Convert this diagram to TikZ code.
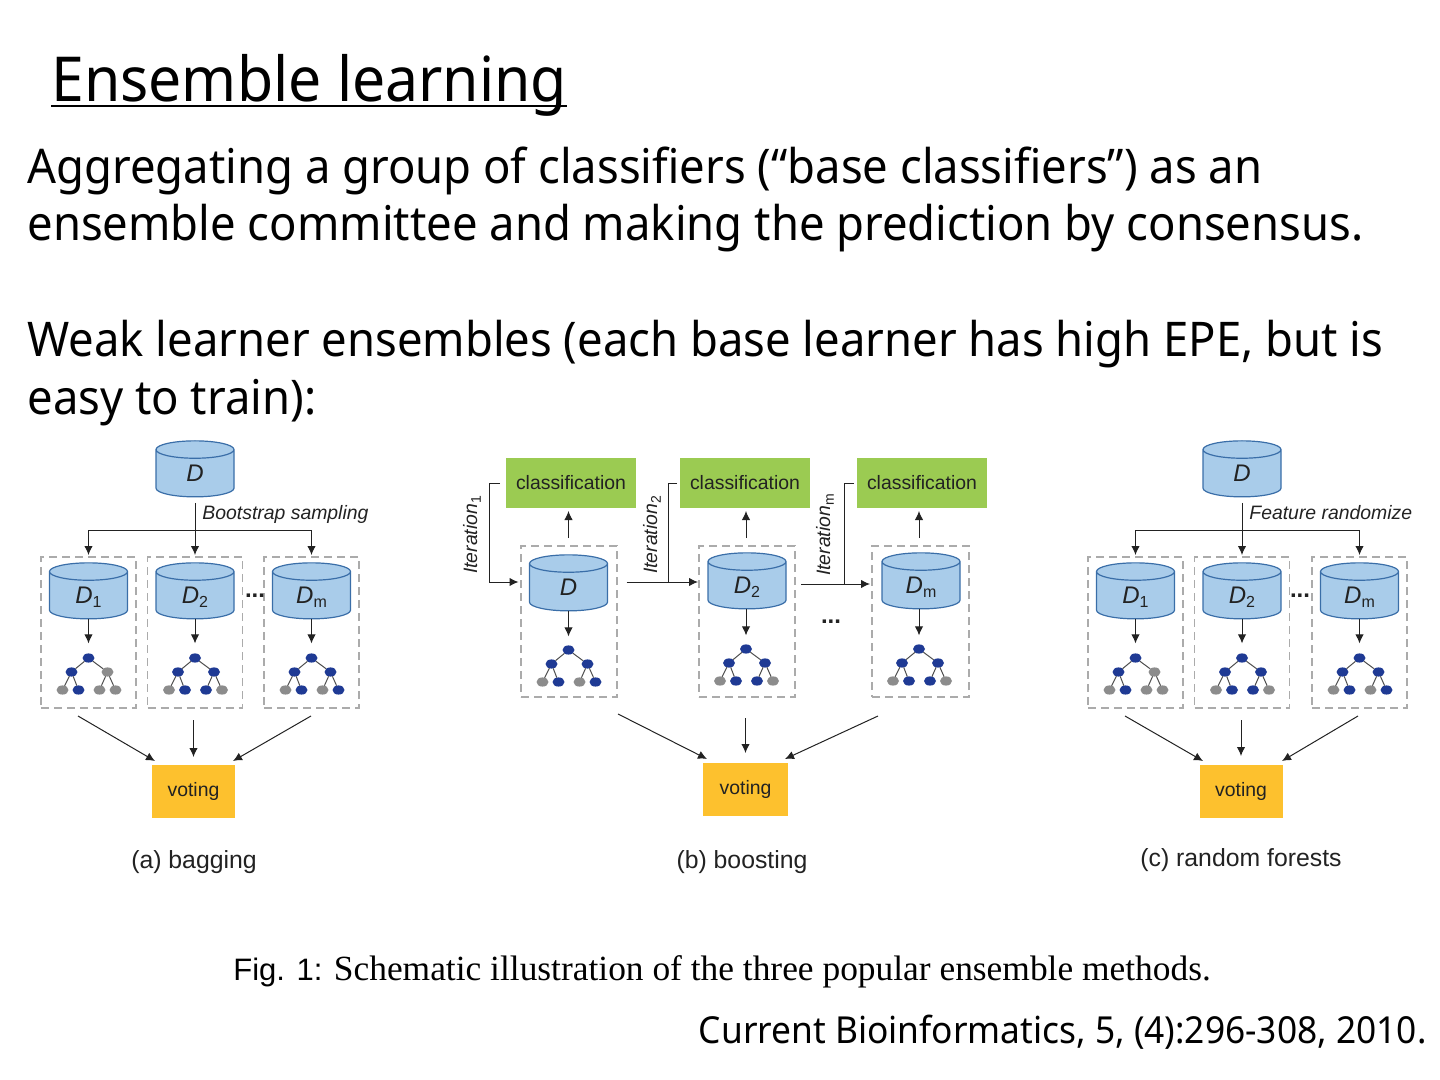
\documentclass[tikz,border=0pt]{standalone}
\usepackage{fontspec}
\setmainfont{Liberation Sans}
\newfontfamily\slidefont[FakeStretch=0.95]{Noto Sans}
\newfontfamily\capfont{Liberation Serif}
\usetikzlibrary{arrows.meta}
\usetikzlibrary{shapes.geometric}

\definecolor{dbfill}{HTML}{A9CCEA}
\definecolor{dbline}{HTML}{3A6EA8}
\definecolor{clsgreen}{HTML}{9BCB52}
\definecolor{votegold}{HTML}{FDC12E}
\definecolor{leafblue}{HTML}{1F3A94}
\definecolor{leafgray}{HTML}{8C8C8C}
\definecolor{boxgray}{HTML}{ABABAB}
\definecolor{inktext}{HTML}{222222}

\newcommand{\fs}[1]{\fontsize{#1}{#1}\selectfont}
\newcommand{\dsub}[1]{\makebox[8.7pt]{\textit{D}\raisebox{-0.35ex}{\fs{8}#1}}}

% root at (x,y), then styles of two children and four leaves
\newcommand{\dtree}[9]{%
    \node[tn,b] (#1r) at (#2,#3) {};
    \node[tn,#4] (#1a) at (#2-17,#3+14) {};
    \node[tn,#5] (#1b) at (#2+19,#3+14) {};
    \node[tn,#6] (#1c) at (#2-26,#3+32) {};
    \node[tn,#7] (#1d) at (#2-10,#3+32) {};
    \node[tn,#8] (#1e) at (#2+11,#3+32) {};
    \node[tn,#9] (#1f) at (#2+27,#3+32) {};
    \draw[treeline] (#1r) -- (#1a) (#1r) -- (#1b);
    \draw[treeline] (#1a) -- (#1c) (#1a) -- (#1d);
    \draw[treeline] (#1b) -- (#1e) (#1b) -- (#1f);
}

\tikzset{
    db/.style={cylinder, shape border rotate=90, aspect=1.0, draw=dbline, fill=dbfill, line width=0.6pt,
        minimum width=39pt, minimum height=28pt, inner sep=0pt, outer sep=0pt, text=inktext, font=\fs{12},
        text height=9pt, text depth=1pt},
    dbox/.style={draw=boxgray, dashed, dash pattern=on 4pt off 2.5pt, line width=0.8pt, minimum width=47.5pt, minimum height=75.5pt, inner sep=0pt, outer sep=0pt},
    cls/.style={fill=clsgreen, minimum width=65pt, minimum height=25pt, inner sep=0pt, outer sep=0pt, text=inktext, font=\fs{9.7}},
    vote/.style={fill=votegold, minimum width=41.5pt, minimum height=26.5pt, inner sep=0pt, outer sep=0pt, text=inktext, font=\fs{9.7}},
    tn/.style={ellipse, minimum width=6pt, minimum height=4.6pt, inner sep=0pt, outer sep=0pt},
    b/.style={fill=leafblue},
    g/.style={fill=leafgray},
    treeline/.style={draw=inktext!80, line width=0.5pt},
    arr/.style={-{Latex[length=4.5pt,width=4.2pt]}, line width=0.5pt, draw=inktext},
    plain/.style={line width=0.5pt, draw=inktext},
    note/.style={text=inktext, font=\fs{9.7}\itshape, inner sep=0pt},
    sub/.style={text=inktext, font=\fs{12.4}, inner sep=0pt},
    slide/.style={anchor=base west, inner sep=0pt, font=\slidefont\fs{23.9}, text=black},
    dotted3/.style={font=\fs{12}\bfseries, text=inktext, inner sep=0pt},
}

\begin{document}
\begin{tikzpicture}[x=0.5pt, y=-0.5pt]
    \useasboundingbox (0,0) rectangle (1440,1080);

    % slide text
    \node[slide, font=\slidefont\fs{31}] (title) at (51,102) {Ensemble learning};
    \draw[line width=1pt] ([yshift=-2pt]title.base west) -- ([yshift=-2pt]title.base east);
    \node[slide] (l1) at (27,184) {Aggregating a group of classifiers (“base classifiers”) as an};
    \node[slide] (l2) at (27,241) {ensemble committee and making the prediction by consensus.};
    \node[slide] (l3) at (27,357) {Weak learner ensembles (each base learner has high EPE, but is};
    \node[slide] (l4) at (27,415) {easy to train):};

    % (a) bagging
    \node[db] (dA) at (195,473.5) {\dsub{}};
    \coordinate (forkA) at (195,530);
    \node[dbox] (boxA1) at (88.5,632.5) {};
    \node[dbox] (boxA2) at (195,632.5) {};
    \node[dbox] (boxA3) at (311.5,632.5) {};
    \node[db] (dA1) at (88.5,595.5) {\dsub{1}};
    \node[db] (dA2) at (195,595.5) {\dsub{2}};
    \node[db] (dA3) at (311.5,595.5) {\dsub{m}};
    \dtree{tA1}{88.5}{658}{b}{g}{g}{b}{g}{g}
    \dtree{tA2}{195}{658}{b}{b}{g}{b}{b}{g}
    \dtree{tA3}{311.5}{658}{b}{b}{g}{b}{g}{b}
    \draw[arr, shorten <=3pt, shorten >=1pt] (dA.south) -- (boxA2.north);
    \draw[arr, shorten >=1pt] (forkA) -| (boxA1.north);
    \draw[arr, shorten >=1pt] (forkA) -| (boxA3.north);
    \foreach \i in {1,2,3}
        \draw[arr, shorten >=5pt] (dA\i.south) -- (tA\i r);
    \node[note, anchor=base west] (bsA) at (202,519) {Bootstrap sampling};
    \node[dotted3] (dotsA) at (255,596) {...};
    \node[vote] (voteA) at (193.5,791.5) {voting};
    \coordinate (fromA1) at (78,716);
    \coordinate (toA1) at (155,761);
    \coordinate (fromA2) at (193.5,720);
    \coordinate (toA2) at (193.5,757);
    \coordinate (fromA3) at (311,716);
    \coordinate (toA3) at (233,761);
    \foreach \i in {1,2,3}
        \draw[arr] (fromA\i) -- (toA\i);
    \node[sub] (capA) at (194,862) {(a) bagging};

    % (b) boosting
    \node[cls] (clsB1) at (571,483) {classification};
    \node[cls] (clsB2) at (745,483) {classification};
    \node[cls] (clsB3) at (922,483) {classification};
    \node[dbox, minimum width=48pt] (boxB1) at (569,621.5) {};
    \node[dbox, minimum width=48pt] (boxB2) at (747,621.5) {};
    \node[dbox, minimum width=48.5pt] (boxB3) at (920.5,621.5) {};
    \node[db] (dB1) at (568.5,587.5) {\dsub{}};
    \node[db] (dB2) at (747,585.5) {\dsub{2}};
    \node[db] (dB3) at (921,585.5) {\dsub{m}};
    \dtree{tB1}{568.5}{650}{b}{b}{g}{b}{g}{b}
    \dtree{tB2}{746}{649}{b}{b}{g}{b}{b}{g}
    \dtree{tB3}{919}{649}{b}{b}{g}{b}{b}{g}
    \foreach \i in {1,2,3} {
        \draw[arr, shorten <=4pt, shorten >=1.5pt] (tB\i r |- boxB\i.north) -- (tB\i r |- clsB\i.south);
        \draw[arr, shorten >=4.5pt] (tB\i r |- dB\i.south) -- (tB\i r);
    }
    \coordinate (itB1) at (489,582);
    \coordinate (itB2) at (668,582);
    \coordinate (itB3) at (844,584);
    \draw[arr, shorten <=3pt, shorten >=5.5pt] (clsB1.west) -| (itB1) -- (dB1.west |- itB1);
    \draw[arr, shorten <=9.5pt, shorten >=5pt] (dB1.east |- itB2) -- (dB2.west |- itB2);
    \draw[arr, shorten <=7.5pt, shorten >=6pt] (dB2.east |- itB3) -- (dB3.west |- itB3);
    \draw[plain, shorten <=1.5pt] (clsB2.west) -| (itB2);
    \draw[plain, shorten <=1.5pt] (clsB3.west) -| (itB3);
    \node[note, rotate=90] (iterB1) at (472,535) {Iteration\raisebox{-0.35ex}{\fs{7}\upshape 1}};
    \node[note, rotate=90] (iterB2) at (652,535) {Iteration\raisebox{-0.35ex}{\fs{7}\upshape 2}};
    \node[note, rotate=90] (iterB3) at (825,535) {Iteration\raisebox{-0.35ex}{\fs{7}\upshape m}};
    \node[dotted3] (dotsB) at (831,622) {...};
    \node[vote, minimum width=42.5pt] (voteB) at (745.5,789.5) {voting};
    \coordinate (fromB1) at (618,714);
    \coordinate (toB1) at (707,759);
    \coordinate (fromB2) at (745.5,718);
    \coordinate (toB2) at (745.5,753);
    \coordinate (fromB3) at (878,716);
    \coordinate (toB3) at (785,759);
    \foreach \i in {1,2,3}
        \draw[arr] (fromB\i) -- (toB\i);
    \node[sub] (capB) at (742,862) {(b) boosting};

    % (c) random forests
    \node[db] (dC) at (1242,473.5) {\dsub{}};
    \coordinate (forkC) at (1242,530);
    \node[dbox] (boxC1) at (1135.5,632.5) {};
    \node[dbox] (boxC2) at (1242,632.5) {};
    \node[dbox] (boxC3) at (1359.5,632.5) {};
    \node[db] (dC1) at (1135.5,595.5) {\dsub{1}};
    \node[db] (dC2) at (1242,595.5) {\dsub{2}};
    \node[db] (dC3) at (1359.5,595.5) {\dsub{m}};
    \dtree{tC1}{1135.5}{658}{b}{g}{g}{b}{g}{g}
    \dtree{tC2}{1242}{658}{b}{b}{g}{b}{b}{g}
    \dtree{tC3}{1359.5}{658}{b}{b}{g}{b}{g}{b}
    \draw[arr, shorten <=3pt, shorten >=1pt] (dC.south) -- (boxC2.north);
    \draw[arr, shorten >=1pt] (forkC) -| (boxC1.north);
    \draw[arr, shorten >=1pt] (forkC) -| (boxC3.north);
    \foreach \i in {1,2,3}
        \draw[arr, shorten >=5pt] (dC\i.south) -- (tC\i r);
    \node[note, anchor=base west] (frC) at (1249,519) {Feature randomize};
    \node[dotted3] (dotsC) at (1300,596) {...};
    \node[vote] (voteC) at (1241,791.5) {voting};
    \coordinate (fromC1) at (1125,716);
    \coordinate (toC1) at (1203,761);
    \coordinate (fromC2) at (1241,720);
    \coordinate (toC2) at (1241,756);
    \coordinate (fromC3) at (1358,716);
    \coordinate (toC3) at (1282,761);
    \foreach \i in {1,2,3}
        \draw[arr] (fromC\i) -- (toC\i);
    \node[sub] (capC) at (1241,860) {(c) random forests};

    % caption and source
    \node[anchor=base west, inner sep=0pt, font=\fs{15.5}] (figcap) at (233,980) {Fig. 1: {\capfont\fs{17.7}Schematic illustration of the three popular ensemble methods.}};
    \node[slide, anchor=base east, font=\slidefont\fs{18.6}] (source) at (1427,1043) {Current Bioinformatics, 5, (4):296-308, 2010.};
\end{tikzpicture}
\end{document}
